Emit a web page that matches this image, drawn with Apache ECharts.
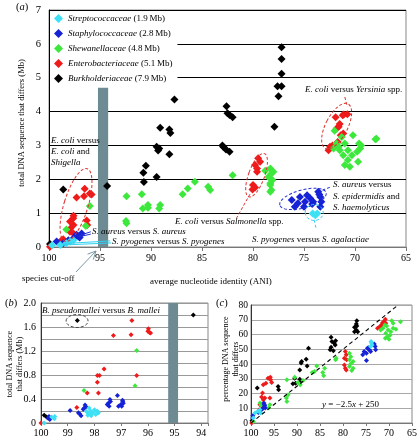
<!DOCTYPE html>
<html><head><meta charset="utf-8">
<script src="https://cdn.jsdelivr.net/npm/echarts/dist/echarts.min.js"></script>
<style>html,body{margin:0;padding:0;background:#fff}#c{width:420px;height:439px}</style>
</head><body><div id="c"></div>
<script>
// ---------- data (x = ANI %, y = value) ----------
const families = ['Streptococcaceae','Staphylococcaceae','Shewanellaceae','Enterobacteriaceae','Burkholderiaceae'];
const genomeSizes = ['1.9\u2009Mb','2.8\u2009Mb','4.8\u2009Mb','5.1\u2009Mb','7.9\u2009Mb'];
const ticksA = [100,95,90,85,80,75,70,65];

// panel (a): total DNA that differs (Mb)
const strepA = [[97.94,0.16],[98.3,0.11],[98.9,0.06],[97.6,0.2],[99.7,0.05],[73.9,0.94],[74.15,0.99],[73.7,0.99]];
const staphA = [[97.13,0.32],[97.6,0.26],[96.8,0.4],[98.1,0.2],[99.25,0.16],[98.6,0.11],[97.0,0.28],[97.3,0.36],
  [76.2,1.39],[75.4,1.48],[74.7,1.53],[74.4,1.44],[74.9,1.34],[75.0,1.19],[74.2,1.27],[73.6,1.63],[73.4,1.48],[73.3,1.34],[73.4,1.19],[75.6,1.29],[75.9,1.19],[74.1,1.34],[73.5,1.55]];
const shewA = [[98.3,0.52],[96.4,0.62],[96.0,1.21],[92.4,0.70],[92.45,0.77],[92.4,1.5],[90.9,1.56],[90.3,1.24],[90.3,1.16],[90.8,1.14],[89.1,1.24],[89.2,1.14],
  [86.9,1.56],[86.4,1.73],[85.7,1.93],[84.4,1.78],[84.2,1.68],[82.0,2.12],[78.8,2.25],[78.3,2.32],[78.2,2.17],[78.5,2.07],[78.3,1.88],[78.2,1.68],[78.3,1.63],[78.1,1.98],[78.0,2.22],[78.3,1.83],
  [72.0,3.43],[71.3,3.25],[71.0,3.06],[71.5,2.86],[70.7,2.86],[71.15,2.71],[70.7,2.57],[70.3,2.71],[69.8,2.81],[69.5,2.91],[69.7,2.52],[71.0,2.42],[70.5,2.37],[68.0,3.18],[67.9,3.2],[71.8,3.06],[72.1,2.91],[71.6,2.96],[69.6,3.06],[70.2,3.3],[69.4,3.0]];
const enteroA = [[99.9,0.01],[98.76,0.2],[97.6,0.4],[97.9,0.55],[97.6,0.65],[97.62,0.85],[97.6,0.92],[97.94,0.75],[96.3,0.78],[96.25,0.65],[97.3,1.46],[96.57,1.5],[96.0,1.58],[95.82,1.55],[96.5,1.72],[98.6,0.23],[97.94,0.45],
  [79.5,2.62],[79.3,2.52],[79.8,2.42],[79.6,2.32],[79.6,2.22],[80.0,1.83],[80.05,1.70],[79.8,1.76],
  [71.9,3.83],[71.1,3.91],[70.75,3.92],[71.5,3.63],[71.8,3.5],[71.15,3.35],[71.4,3.3],[72.45,2.96],[72.6,2.86],[72.2,3.0],[71.7,3.1],[71.6,3.55],[71.2,3.89]];
const burkA = [[99.9,0.09],[98.6,1.70],[94.3,1.8],[90.75,2.19],[90.7,1.92],[90.5,2.4],[89.45,2.07],[89.45,2.96],[89.3,2.85],[89.2,2.91],[89.1,3.52],[88.2,3.47],[88.1,3.37],[88.2,2.74],[87.7,4.36],
  [83.0,3.0],[82.9,2.95],[82.65,2.88],[82.3,2.81],[82.6,4.16],[82.5,3.95],[82.3,3.9],[82.0,3.83],[77.9,3.55],[77.5,4.45],[77.6,4.75],[77.2,4.75],[77.2,5.12],[77.2,5.55],[77.2,5.9]];

// panel (b): zoom near species level
const strepB = [[99.88,0.0],[99.48,0.11],[99.5,0.07],[99.6,0.1],[98.2,0.25],[98.15,0.2],[98.1,0.15],[98.05,0.18],[98.0,0.22],[97.95,0.14],[97.9,0.2],[98.22,0.16],[98.25,0.13],[97.85,0.17],[98.12,0.12],[98.3,0.19]];
const staphB = [[99.73,0.08],[99.67,0.06],[99.7,0.11],[98.91,0.21],[98.6,0.17],[98.55,0.15],[98.5,0.12],[98.42,0.23],[98.35,0.3],[98.32,0.27],[98.38,0.25],
  [97.48,0.33],[97.42,0.39],[97.45,0.28],[97.52,0.31],[97.4,0.36],[97.14,0.46],[97.1,0.28],[97.01,0.31],[96.94,0.36],[96.98,0.28],[96.92,0.33],[96.95,0.38]];
const shewB = [[98.39,0.54],[96.42,1.21],[96.48,0.62]];
const enteroB = [[100,0.0],[98.66,0.26],[98.27,0.5],[97.89,0.79],[97.81,0.79],[97.89,0.68],[97.85,0.5],[97.64,0.9],[97.29,1.46],[96.6,1.71],[96.63,1.47],[96.42,0.79],[95.98,1.57],[95.94,1.51],[95.9,1.5],[96.0,1.53]];
const burkB = [[98.64,1.71],[94.3,1.8],[99.88,0.13],[99.79,0.10]];

// panel (c): percentage that differs
const strepC = [[99.5,3.4],[99.14,6.8],[98.06,9],[97.9,6.8],[98.5,8],[73.9,55.2],[73.7,52.9],[74.0,51.8],[73.8,54.3]];
const staphC = [[99.63,3.4],[99.6,4.9],[98.42,7.2],[97.34,10.1],[97.0,11.7],[97.2,13.5],[97.7,9],[96.9,10.1],[97.1,12.5],
  [75.4,48.4],[74.7,50.7],[74.3,49.6],[74.9,47.3],[74.0,48.5],[73.2,53.6],[73.0,51.8],[72.9,49.6],[74.9,42.3],[75.7,46.2],[74.5,51.0]];
const shewC = [[99.5,1],[98.06,13.5],[97.8,12],[95.9,12.4],[96.2,10.1],[92.3,16.9],[91.94,19.1],[92.2,14.6],[92.2,29.3],[90.5,31.1],[89.3,25.9],[88.7,28.8],[89.8,27.5],
  [86.7,34.2],[86.2,34.9],[85.7,38.7],[84.4,34.2],[84.0,37.2],[84.2,32],[81.6,42.8],[81.5,43.9],[78.6,47.3],[78.3,45],[78.6,42.8],[78.3,40.1],[78.6,38.3],[77.8,37.2],[78.1,35.6],[77.8,41.7],
  [71.8,63.1],[71.3,64.2],[70.7,60.9],[70.3,58.6],[70.0,56.8],[69.6,61.9],[69.1,64.2],[69.1,67.6],[69.4,69.4],[68.5,63.5],[70.9,66.5],[70.2,63.1],[67.5,68.7],[70.5,65.8],[69.8,59.5],[70.8,57.5]];
const enteroC = [[99.85,0],[97.34,25.9],[96.76,27],[96.3,30.4],[95.75,29.3],[95.5,27.5],[95.8,31.1],[97.5,20.3],[97.7,17.6],[97.34,15.8],[98.06,12.4],[97.0,16.9],[95.9,16.9],[97.5,10.1],[98.2,9.0],
  [79.5,48.4],[79.3,46.2],[79.7,43.9],[79.2,42.8],[79.7,39.4],[79.5,37.2],[79.3,36.0],
  [72.1,64.9],[71.6,66.5],[71.1,68.7],[70.8,70.3],[71.2,67.6],[70.7,67.6],[71.4,68],[72.5,64.2],[71.8,66]];
const burkC = [[99.8,1.5],[98.64,23.7],[94.1,24.7],[94.0,22.5],[90.5,30.4],[90.3,27],[90.9,26.6],[89.4,36],[89.1,40.6],[89.0,41.7],[89.4,29.7],[89.1,28.1],[88.0,43.3],[87.8,38.7],[87.5,50.7],
  [82.6,58.1],[82.4,55.2],[81.9,54.1],[81.7,52.9],[82.6,51.4],[82.8,49.6],[82.1,48.9],[81.6,55.8],[77.0,69.4],[77.1,67.1],[77.5,64.9],[77.5,61.9],[77.1,63.1],[76.8,61.9],[77.0,65.8]];
const fitLineC = [[100,0],[68,80]];           // y = -2.5x + 250
const cutoffA = [[95.2,0],[94.2,4.7]];         // species cut-off band (a)
const cutoffB = [[95.24,0],[94.87,2.0]];       // species cut-off band (b)

// ---------- helpers ----------
const F = 'Liberation Serif';
const colors = ['#3ee0f4','#1522d6','#3de83d','#ef1a1a','#000000'];
const setsA = [strepA, staphA, shewA, enteroA, burkA];
const setsB = [strepB, staphB, shewB, enteroB, burkB];
const setsC = [strepC, staphC, shewC, enteroC, burkC];
const T = d => d.map(p => [+(100 - p[0]).toFixed(3), p[1]]);
const drawOrder = [4,3,2,1,0];

const series = [];
[[setsA,0,8],[setsB,1,5],[setsC,2,5]].forEach(([sets, ax, size]) => {
  drawOrder.forEach(i => series.push({
    type:'scatter', name: families[i], xAxisIndex:ax, yAxisIndex:ax, data:T(sets[i]),
    symbol:'diamond', symbolSize:size, itemStyle:{color:colors[i], opacity:1}, silent:true, z:3
  }));
});
// cut-off bands
series.push({type:'scatter', name:'cutA', xAxisIndex:0, yAxisIndex:0, data:[], z:2,
  markArea:{silent:true, itemStyle:{color:'#6e8b93'}, data:[[{xAxis:100-cutoffA[0][0], yAxis:cutoffA[0][1]},{xAxis:100-cutoffA[1][0], yAxis:cutoffA[1][1]}]]}});
series.push({type:'scatter', name:'cutB', xAxisIndex:1, yAxisIndex:1, data:[], z:2,
  markArea:{silent:true, itemStyle:{color:'#6e8b93'}, data:[[{xAxis:100-cutoffB[0][0], yAxis:cutoffB[0][1]},{xAxis:100-cutoffB[1][0], yAxis:cutoffB[1][1]}]]}});
// fit line (c)
series.push({type:'line', name:'fit', xAxisIndex:2, yAxisIndex:2, data:T(fitLineC), symbol:'none', silent:true, z:5,
  lineStyle:{color:'#000', width:1.1, type:[4,3]}});

// annotation ellipses (centre in data units; radii in px; tilt clockwise deg)
const ellipsesA = [
  {x:97.35, y:1.24, rx:12, ry:38, tilt:17, c:'#e03030'},
  {x:79.65, y:2.12, rx:8, ry:23, tilt:20, c:'#e03030'},
  {x:71.8, y:3.57, rx:11, ry:25, tilt:27, c:'#e03030'},
  {x:75.1, y:1.42, rx:24, ry:9, tilt:-15, c:'#2030d0'},
  {x:74.0, y:1.02, rx:9, ry:8, tilt:0, c:'#30d0f0'}
];
const ellipsesB = [{x:98.65, y:1.70, rx:11, ry:6.5, tilt:0, c:'#444'}];
const leadersA = [
  {a:[80.3,1.56], b:[81.6,0.86], c:'#e03030', dash:true},
  {a:[71.0,4.43], b:[70.75,4.14], c:'#e03030', dash:true},
  {a:[74.0,0.80], b:[73.8,0.53], c:'#30d0f0', dash:true},
  {a:[73.2,1.68], b:[72.4,1.77], c:'#2030d0', dash:true},
  {a:[97.1,0.33], b:[95.9,0.45], c:'#2030d0', dash:false},
  {a:[97.1,0.30], b:[95.9,0.38], c:'#2030d0', dash:false},
  {a:[98.6,0.10], b:[94.0,0.18], c:'#30d0f0', dash:false},
  {a:[98.6,0.06], b:[93.9,0.12], c:'#30d0f0', dash:false}
];
function ellSeries(list, ax) {
  return {type:'custom', name:'ell'+ax, xAxisIndex:ax, yAxisIndex:ax, silent:true, z:4,
    data:list.map(e => [100-e.x, e.y]),
    renderItem:(p, api) => {
      const e = list[p.dataIndex]; const c = api.coord([100-e.x, e.y]);
      return {type:'ellipse', x:c[0], y:c[1], rotation:-e.tilt*Math.PI/180,
        shape:{cx:0, cy:0, rx:e.rx, ry:e.ry},
        style:{fill:'none', stroke:e.c, lineWidth:1, lineDash:[3,2]}};
    }};
}
series.push(ellSeries(ellipsesA, 0));
series.push(ellSeries(ellipsesB, 1));
series.push({type:'custom', name:'lead', xAxisIndex:0, yAxisIndex:0, silent:true, z:4,
  data:leadersA.map(l => [100-l.a[0], l.a[1]]),
  renderItem:(p, api) => {
    const l = leadersA[p.dataIndex]; const a = api.coord([100-l.a[0], l.a[1]]); const b = api.coord([100-l.b[0], l.b[1]]);
    return {type:'line', shape:{x1:a[0], y1:a[1], x2:b[0], y2:b[1]},
      style:{stroke:l.c, lineWidth:1, lineDash: l.dash ? [3,2] : null}};
  }});

// ---------- axes ----------
const lab = (size) => ({fontFamily:F, fontSize:size, color:'#000'});
const xAxes = [
  {gridIndex:0, type:'value', min:0, max:35, interval:5,
    axisLine:{show:true, onZero:false, lineStyle:{color:'#777'}}, axisTick:{show:true, length:4, lineStyle:{color:'#777'}},
    axisLabel:Object.assign(lab(10), {margin:6, formatter:v => String(Math.round(100 - v))}), splitLine:{show:false}},
  {gridIndex:1, type:'value', min:0, max:6.25, interval:1,
    axisLine:{show:true, onZero:false, lineStyle:{color:'#777'}}, axisTick:{show:true, length:3, lineStyle:{color:'#777'}},
    axisLabel:Object.assign(lab(10), {margin:5, formatter:v => Number.isInteger(Math.round(v*1000)/1000) ? String(Math.round(100 - v)) : ''}), splitLine:{show:false}},
  {gridIndex:2, type:'value', min:0, max:35, interval:5,
    axisLine:{show:true, onZero:false, lineStyle:{color:'#777'}}, axisTick:{show:true, length:3, lineStyle:{color:'#777'}},
    axisLabel:Object.assign(lab(10), {margin:5, formatter:v => String(Math.round(100 - v))}), splitLine:{show:false}}
];
const yAxes = [
  {gridIndex:0, type:'value', min:0, max:7, interval:1,
    axisLine:{show:true, lineStyle:{color:'#000'}}, axisTick:{show:false},
    axisLabel:Object.assign(lab(10.5), {margin:8}), splitLine:{show:true, lineStyle:{color:'#000', width:1}}},
  {gridIndex:1, type:'value', min:0, max:2, interval:0.2,
    axisLine:{show:true, lineStyle:{color:'#333'}}, axisTick:{show:false},
    axisLabel:Object.assign(lab(10), {margin:5, formatter:v => { const k = Math.round(v*10); return k % 4 ? '' : (k === 0 ? '0' : (k/10).toFixed(1)); }}),
    splitLine:{show:true, lineStyle:{color:'#999', width:1}}},
  {gridIndex:2, type:'value', min:0, max:80, interval:10,
    axisLine:{show:true, lineStyle:{color:'#333'}}, axisTick:{show:false},
    axisLabel:Object.assign(lab(9.5), {margin:3}), splitLine:{show:true, lineStyle:{color:'#a8a8a8', width:1}}}
];

// ---------- text annotations ----------
function rich(str, size) {
  let s = '';
  str.split('*').forEach((p, i) => { if (p) s += (i % 2 ? '{i|' : '{n|') + p + '}'; });
  return {text:s, rich:{i:{fontStyle:'italic', fontFamily:F, fontSize:size, fill:'#000'}, n:{fontFamily:F, fontSize:size, fill:'#000'}}};
}
function txt(x, y, str, size, extra) {
  return Object.assign({type:'text', x, y, silent:true, z:50,
    style:Object.assign({fontFamily:F, fontSize:size, fill:'#000', align:'left', verticalAlign:'middle'}, rich(str, size))}, extra || {});
}
const graphics = [
  txt(16, 7, '(*a*)', 10.5), txt(5, 303, '(*b*)', 10.5), txt(216, 303, '(*c*)', 10.5),
  txt(51, 141, '*E. coli* versus', 9), txt(51, 152, '*E. coli* and', 9), txt(51, 163, '*Shigella*', 9),
  txt(92, 231.5, '*S. aureus* versus *S. aureus*', 9),
  txt(112, 241.5, '*S. pyogenes* versus *S. pyogenes*', 9),
  txt(175, 222, '*E. coli* versus *Salmonella* spp.', 9),
  txt(333, 185, '*S. aureus* versus', 9), txt(333, 196.5, '*S. epidermidis* and', 9), txt(333, 208, '*S. haemolyticus*', 9),
  txt(252, 239.5, '*S. pyogenes* versus *S. agalactiae*', 9),
  txt(305, 89.5, '*E. coli* versus *Yersinia* spp.', 9),
  txt(22, 278.5, 'species cut-off', 9),
  txt(150, 282, 'average nucleotide identity (ANI)', 9),
  txt(42, 310.5, '*B. pseudomallei* versus *B. mallei*', 9),
  txt(322, 405, '*y* = \u22122.5*x* + 250', 9),
  {type:'text', x:22, y:123, rotation:Math.PI/2, silent:true,
    style:{text:'total DNA sequence that differs (Mb)', fontFamily:F, fontSize:8.5, fill:'#000', align:'center', verticalAlign:'middle'}},
  {type:'text', x:15, y:364, rotation:Math.PI/2, silent:true,
    style:{text:'total DNA sequence\nthat differs (Mb)', fontFamily:F, fontSize:8.2, lineHeight:10, fill:'#000', align:'center', verticalAlign:'middle'}},
  {type:'text', x:231, y:359, rotation:Math.PI/2, silent:true,
    style:{text:'percentage DNA sequence\nthat differs', fontFamily:F, fontSize:8, lineHeight:9.5, fill:'#000', align:'center', verticalAlign:'middle'}}
];
// species cut-off arrow
(function(){
  const tail = [76, 272], tip = [96, 251];
  const ang = Math.atan2(tail[1]-tip[1], tail[0]-tip[0]);
  const h = (d) => [tip[0] + 9*Math.cos(ang+d), tip[1] + 9*Math.sin(ang+d)];
  graphics.push({type:'polyline', silent:true, z:40, shape:{points:[tail, tip]}, style:{stroke:'#7a97a0', lineWidth:1, fill:'none'}});
  graphics.push({type:'polyline', silent:true, z:40, shape:{points:[h(0.45), tip, h(-0.45)]}, style:{stroke:'#7a97a0', lineWidth:1, fill:'none'}});
})();

const chart = echarts.init(document.getElementById('c'), null, {renderer:'canvas'});
chart.setOption({
  animation:false,
  backgroundColor:'#fff',
  grid:[
    {left:49, top:10, width:357, height:237, show:true, borderColor:'#888', borderWidth:1, backgroundColor:'transparent'},
    {left:41, top:303, width:167, height:120, show:true, borderColor:'#888', borderWidth:1},
    {left:251, top:305, width:162, height:118, show:true, borderColor:'#888', borderWidth:1}
  ],
  xAxis:xAxes, yAxis:yAxes,
  legend:{data:families.map(n => ({name:n, icon:'diamond'})), orient:'vertical', left:50, top:11,
    itemWidth:9, itemHeight:9, itemGap:6, padding:[3,5,3,4], backgroundColor:'#fff', selectedMode:false,
    formatter:n => '{i|' + n + '} {n|(' + genomeSizes[families.indexOf(n)] + ')}',
    textStyle:{fontFamily:F, fontSize:9, color:'#000',
      rich:{i:{fontStyle:'italic', fontFamily:F, fontSize:9, color:'#000'}, n:{fontFamily:F, fontSize:9, color:'#000'}}}},
  series:series,
  graphic:graphics
});
</script></body></html>
